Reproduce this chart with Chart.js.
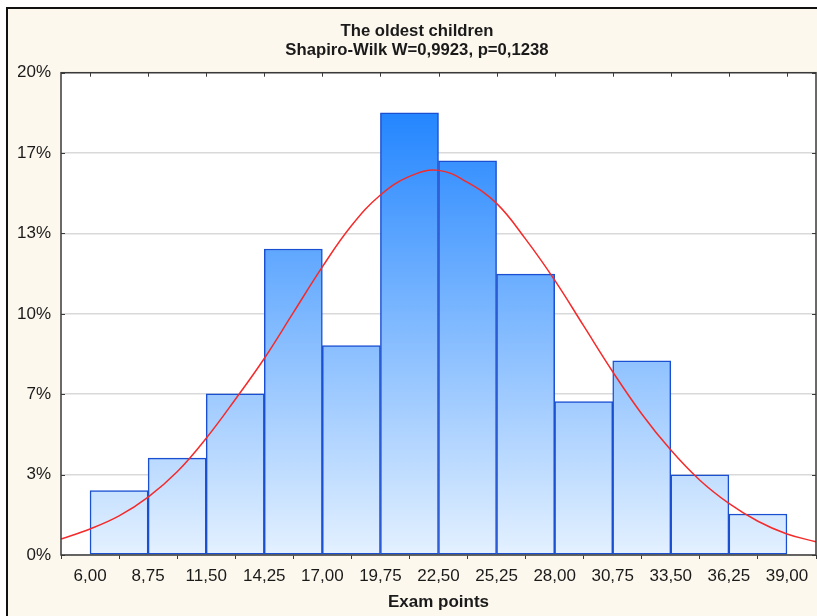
<!DOCTYPE html>
<html>
<head>
<meta charset="utf-8">
<script src="https://cdn.jsdelivr.net/npm/chart.js@4.4.0/dist/chart.umd.min.js"></script>
<style>
  html, body { margin: 0; padding: 0; background: #fff; }
  canvas { display: block; }
</style>
</head>
<body>
<canvas id="hist" width="817" height="616"></canvas>
<script>
// bin edges on the exam points axis and their printed labels
const binEdges = [6, 8.75, 11.5, 14.25, 17, 19.75, 22.5, 25.25, 28, 30.75, 33.5, 36.25, 39]
const xTickLabels = ['6,00', '8,75', '11,50', '14,25', '17,00', '19,75', '22,50', '25,25', '28,00', '30,75', '33,50', '36,25', '39,00']

// share of children per bin, in percent
const binPercent = [2.67, 4.02, 6.68, 12.69, 8.68, 18.34, 16.35, 11.65, 6.36, 8.05, 3.32, 1.70]

// fitted normal curve, percent per bin width, sampled every half bin
const curveX = [4.625, 6, 7.375, 8.75, 10.125, 11.5, 12.875, 14.25, 15.625, 17, 18.375, 19.75, 21.125, 22.5, 23.875, 25.25, 26.625, 28, 29.375, 30.75, 32.125, 33.5, 34.875, 36.25, 37.625, 39, 40.375]
const curvePct = [0.66, 1.08, 1.62, 2.4, 3.45, 4.84, 6.45, 8.15, 10.05, 11.95, 13.65, 14.93, 15.7, 15.95, 15.45, 14.58, 13.1, 11.4, 9.5, 7.6, 5.85, 4.35, 3.1, 2.14, 1.4, 0.87, 0.55]

const yTickLabels = ['0%', '3%', '7%', '10%', '13%', '17%', '20%']
const yMax = 20

const xMin = 4.625
const xMax = 40.375

const barData = binPercent.map((p, i) => ({ x: (binEdges[i] + binEdges[i + 1]) / 2, y: p }))
const curveData = curveX.map((x, i) => ({ x: x, y: curvePct[i] }))

const frameColor = '#3a3a3a'

// cream panel with the dark edge at top and left
const backdrop = {
  id: 'backdrop',
  beforeDraw(chart) {
    const c = chart.ctx
    c.save()
    c.fillStyle = '#ffffff'
    c.fillRect(0, 0, chart.width, chart.height)
    c.fillStyle = '#fdf8ee'
    c.fillRect(7, 8, chart.width - 7, chart.height - 8)
    c.fillStyle = '#ffffff'
    const a = chart.chartArea
    c.fillRect(a.left, a.top, a.right - a.left, a.bottom - a.top)
    c.strokeStyle = '#111'
    c.lineWidth = 2
    c.beginPath()
    c.moveTo(7, 616)
    c.lineTo(7, 8)
    c.lineTo(chart.width, 8)
    c.stroke()
    c.restore()
  }
}

// box around the plot with short inward ticks
const frame = {
  id: 'frame',
  afterDatasetsDraw(chart) {
    const c = chart.ctx
    const a = chart.chartArea
    const xs = chart.scales.x
    const ys = chart.scales.y
    c.save()
    c.strokeStyle = frameColor
    c.lineWidth = 1
    c.beginPath()
    xs.ticks.forEach(t => {
      const px = Math.round(xs.getPixelForValue(t.value)) + 0.5
      c.moveTo(px, a.top)
      c.lineTo(px, a.top + 4)
    })
    ys.ticks.forEach(t => {
      const py = Math.round(ys.getPixelForValue(t.value)) + 0.5
      c.moveTo(a.left, py)
      c.lineTo(a.left + 4, py)
      c.moveTo(a.right, py)
      c.lineTo(a.right - 4, py)
    })
    c.stroke()
    c.lineWidth = 1.5
    c.strokeRect(a.left, a.top, a.right - a.left, a.bottom - a.top)
    c.restore()
  }
}

const ctx = document.getElementById('hist').getContext('2d')

const data = {
  datasets: [
    {
      type: 'line',
      data: curveData,
      borderColor: '#f52a2a',
      borderWidth: 1.5,
      pointRadius: 0,
      tension: 0.4,
      fill: false,
      order: 0
    },
    {
      type: 'bar',
      data: barData,
      backgroundColor: function (context) {
        const area = context.chart.chartArea
        if (!area) return '#8fc4ff'
        const g = context.chart.ctx.createLinearGradient(0, area.top, 0, area.bottom)
        g.addColorStop(0, 'rgb(18,124,255)')
        g.addColorStop(1, 'rgb(228,241,255)')
        return g
      },
      borderColor: '#1b4fd2',
      borderWidth: 1.5,
      borderSkipped: false,
      barPercentage: 1,
      categoryPercentage: 1,
      grouped: false,
      order: 1
    }
  ]
}

const config = {
  type: 'bar',
  data: data,
  plugins: [backdrop, frame],
  options: {
    responsive: false,
    animation: false,
    devicePixelRatio: 1,
    layout: { padding: { left: 18, right: 1, top: 8, bottom: 0 } },
    plugins: {
      legend: { display: false },
      tooltip: { enabled: false },
      title: {
        display: true,
        text: ['The oldest children', 'Shapiro-Wilk W=0,9923, p=0,1238'],
        color: '#1a1a1a',
        font: { family: 'Liberation Sans, Arial, sans-serif', size: 16.7, weight: 'bold', lineHeight: 1.15 },
        padding: { top: 13.4, bottom: 12.9 }
      }
    },
    scales: {
      x: {
        type: 'linear',
        min: xMin,
        max: xMax,
        offset: false,
        afterBuildTicks: scale => {
          scale.ticks = binEdges.map(v => ({ value: v }))
        },
        afterFit: scale => {
          scale.height = 61
        },
        ticks: {
          autoSkip: false,
          maxRotation: 0,
          padding: 6.8,
          color: '#1a1a1a',
          font: { family: 'Liberation Sans, Arial, sans-serif', size: 17 },
          callback: (v, i) => xTickLabels[i]
        },
        grid: { drawOnChartArea: false, tickLength: 4, color: frameColor },
        border: { display: false },
        title: {
          display: true,
          text: 'Exam points',
          color: '#1a1a1a',
          font: { family: 'Liberation Sans, Arial, sans-serif', size: 17, weight: 'bold' },
          padding: { top: 0, bottom: 3 }
        }
      },
      y: {
        min: 0,
        max: yMax,
        afterBuildTicks: scale => {
          scale.ticks = yTickLabels.map((l, i) => ({ value: i * yMax / (yTickLabels.length - 1) }))
        },
        afterFit: scale => {
          scale.width = 43
        },
        ticks: {
          padding: 10,
          color: '#1a1a1a',
          font: { family: 'Liberation Sans, Arial, sans-serif', size: 17 },
          callback: (v, i) => yTickLabels[i]
        },
        grid: { drawTicks: false, color: '#d9d9d9', lineWidth: 1.5 },
        border: { display: false }
      }
    }
  }
}

const chart = new Chart(ctx, config)
</script>
</body>
</html>
